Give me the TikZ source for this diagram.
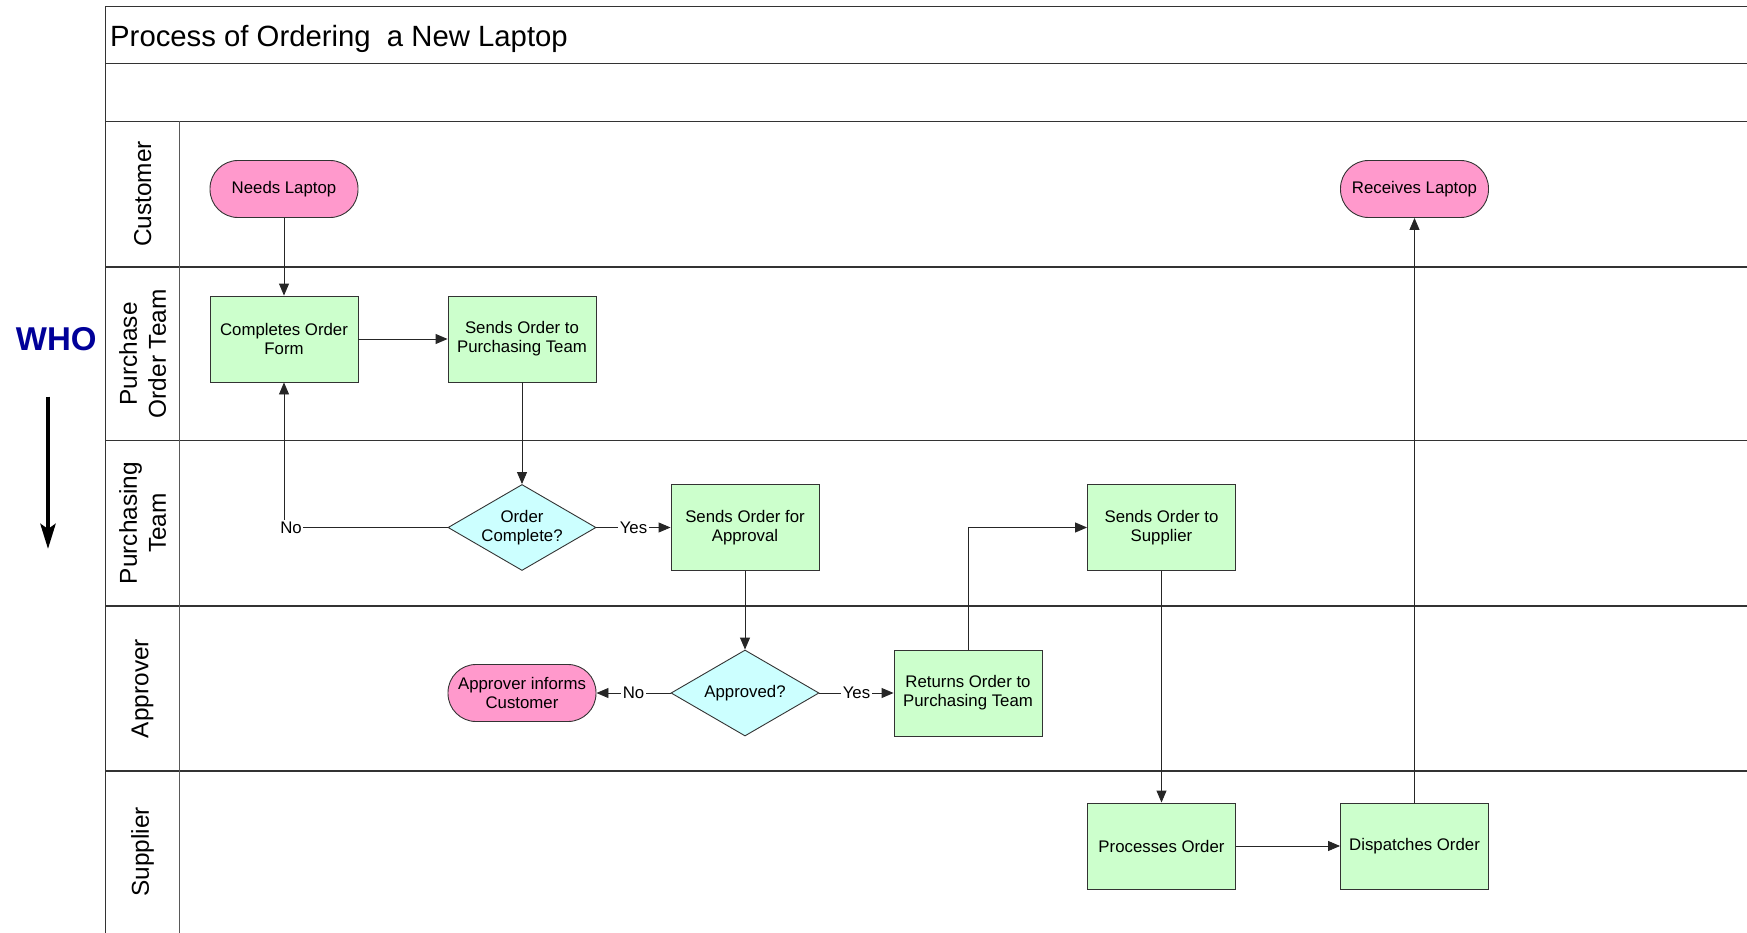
\documentclass[tikz,border=0pt]{standalone}
\usepackage{fontspec}
\setmainfont{Liberation Sans}
\usetikzlibrary{shapes.geometric,arrows.meta}
\definecolor{termfill}{RGB}{255,153,204}
\definecolor{procfill}{RGB}{204,255,204}
\definecolor{decfill}{RGB}{204,255,255}
\definecolor{whoblue}{RGB}{0,0,153}
\begin{document}
\begin{tikzpicture}[x=1pt,y=-1pt,
  every node/.style={font=\fontsize{16.8}{19}\selectfont, align=center},
  box/.style={draw=black!80, line width=0.9pt, inner sep=0pt},
  proc/.style={box, rectangle, fill=procfill, minimum width=148pt, minimum height=86pt},
  term/.style={box, rectangle, rounded corners=28pt, fill=termfill, minimum width=148pt, minimum height=57pt},
  dec/.style={box, diamond, aspect=1.7, fill=decfill, minimum width=148pt, minimum height=86pt},
  flow/.style={draw=black!85, line width=0.9pt, -{Triangle[length=12pt,width=10pt]}},
  lbl/.style={fill=white, inner sep=1.5pt},
  lane/.style={draw=black!80, line width=1.3pt},
  divider/.style={draw=black!65, line width=1pt},
  lanename/.style={rotate=90, font=\fontsize{24.4}{29}\selectfont}]
\useasboundingbox (0,0) rectangle (1747,933);

% frame, header rows and swimlanes
\draw[lane] (1747,6.7) -- (105.8,6.7) -- (105.8,933);
\draw[lane] (105.8,63.5) -- (1747,63.5);
\draw[lane] (105.8,121.4) -- (1747,121.4);
\draw[lane] (105.8,267) -- (1747,267);
\draw[lane] (105.8,440.5) -- (1747,440.5);
\draw[lane] (105.8,606) -- (1747,606);
\draw[lane] (105.8,771) -- (1747,771);
\draw[divider] (179.5,121.4) -- (179.5,933);

% title
\node[anchor=west, inner sep=0pt, font=\fontsize{29.3}{30}\selectfont] (title) at (110,38.5) {Process of Ordering\ \ a New Laptop};

% lane names
\node[lanename] (lcust) at (142.6,194) {Customer};
\node[lanename] (lpot)  at (142.6,353.8) {Purchase\\Order Team};
\node[lanename] (lpt)   at (142.6,523) {Purchasing\\Team};
\node[lanename] (lappr) at (142.6,688.5) {Approver};
\node[lanename] (lsup)  at (142.6,852) {Supplier};

% WHO marker with downward arrow
\node[font=\bfseries\fontsize{33}{33}\selectfont, text=whoblue, inner sep=0pt] (who) at (56.2,338.7) {WHO};
\coordinate (arrtop) at (48,396.7);
\coordinate (arrbot) at (48,549);
\draw[line width=4.5pt, -{Stealth[length=25pt,width=15pt,inset=5pt]}] (arrtop) -- (arrbot);

% process steps
\node[term] (needs)    at (284,189)    {Needs Laptop};
\node[proc] (complete) at (284,339)    {Completes Order\\Form};
\node[proc] (sendpt)   at (522,339)    {Sends Order to\\Purchasing Team};
\node[dec]  (ordq)     at (522,527.5)  {Order\\Complete?};
\node[proc] (sendappr) at (745,527.5)  {Sends Order for\\Approval};
\node[dec]  (apprq)    at (745,693)    {Approved?};
\node[term] (informs)  at (522,693)    {Approver informs\\Customer};
\node[proc] (returns)  at (968,693)    {Returns Order to\\Purchasing Team};
\node[proc] (sendsup)  at (1161.5,527.5) {Sends Order to\\Supplier};
\node[proc] (process)  at (1161.5,846) {Processes Order};
\node[proc] (dispatch) at (1414.5,846) {Dispatches Order};
\node[term] (receives) at (1414.5,189) {Receives Laptop};

% connectors
\draw[flow] (needs) -- (complete);
\draw[flow] (complete) -- (sendpt);
\draw[flow] (sendpt) -- (ordq);
\draw[flow] (ordq.west) -| node[lbl, pos=0.5, xshift=7pt] {No} (complete.south);
\draw[flow] (ordq) -- node[lbl] {Yes} (sendappr);
\draw[flow] (sendappr) -- (apprq);
\draw[flow] (apprq) -- node[lbl] {No} (informs);
\draw[flow] (apprq) -- node[lbl] {Yes} (returns);
\draw[flow] (returns.north) |- (sendsup.west);
\draw[flow] (sendsup) -- (process);
\draw[flow] (process) -- (dispatch);
\draw[flow] (dispatch) -- (receives);
\end{tikzpicture}
\end{document}
